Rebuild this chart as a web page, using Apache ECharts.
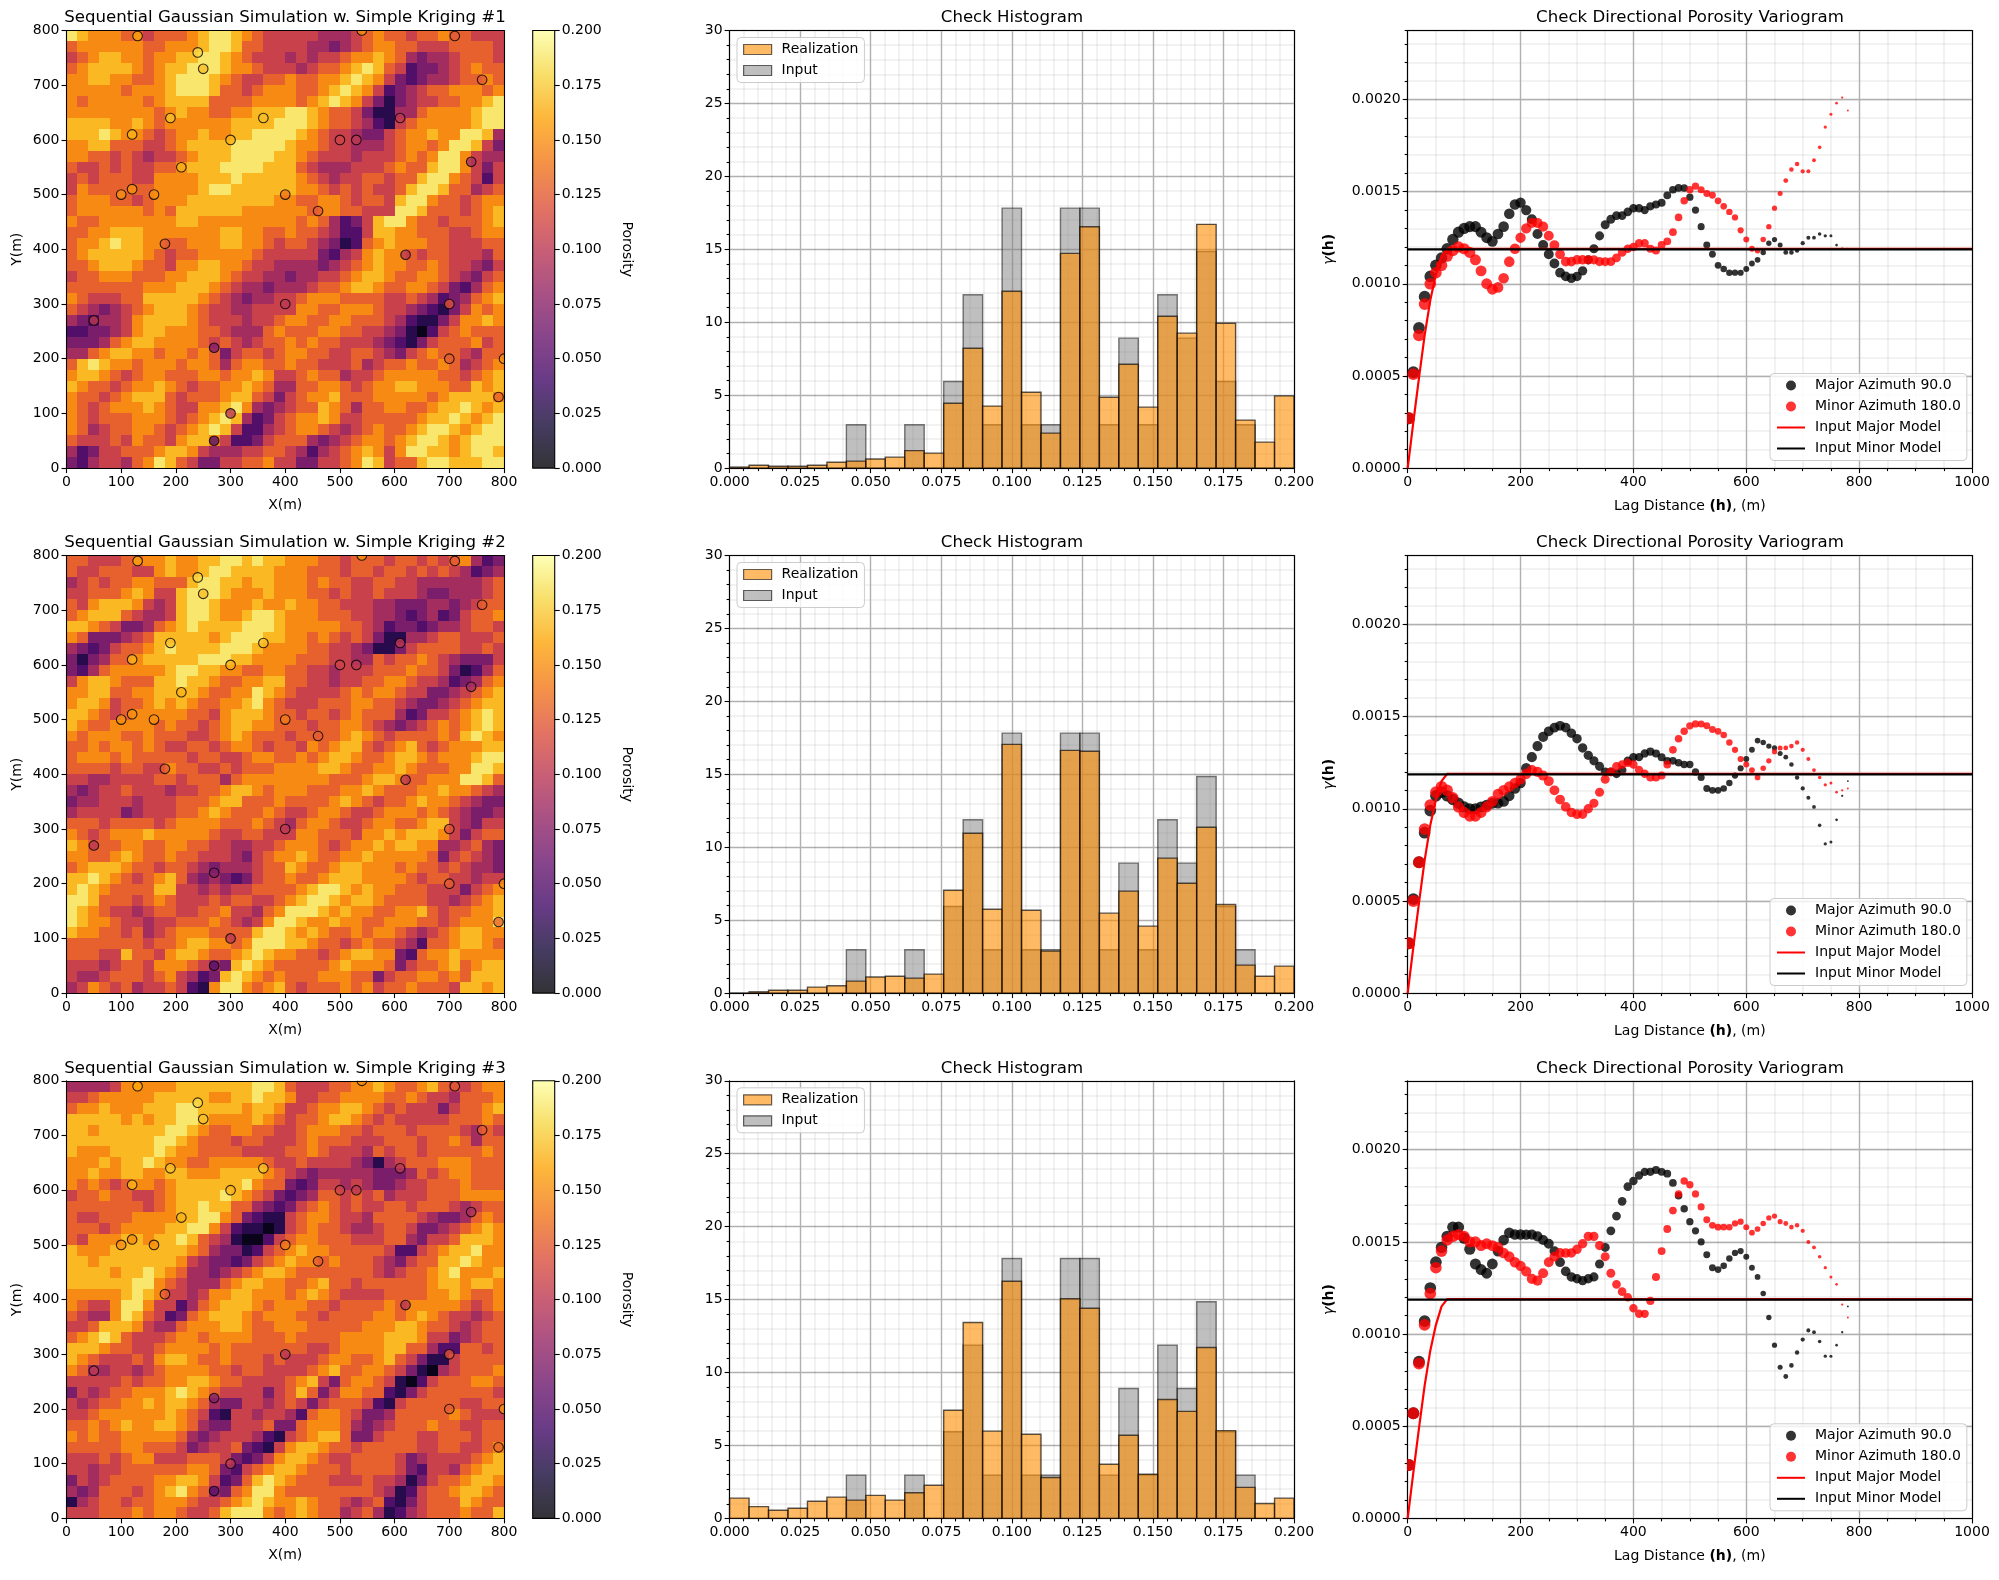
<!DOCTYPE html>
<html>
<head>
<meta charset="utf-8">
<title>Sequential Gaussian Simulation checks</title>
<style>html,body{margin:0;padding:0;background:#fff}#chart{width:1999px;height:1580px}</style>
<script src="https://cdn.jsdelivr.net/npm/echarts@6/dist/echarts.min.js"></script>
</head>
<body>
<div id="chart"></div>
<script>
// Porosity grids, top row first, one digit per 20 m cell; a digit d stands for (d + 0.4) * 0.02.
const porosityRows1 = [
"9877766566 6789987655 5554445676 6566766555","6777777667 7789986655 5544345677 6655566665",
"5678877677 8899876555 4545567787 6434456665","6788887678 8999877655 5456678986 5233456766",
"7788776678 9998765566 7667789875 3234456676","7777767778 9998665677 7667898752 3456677767",
"7677777678 8886666777 7678987531 3455667789","7777777767 8776677888 9987665311 4467777899",
"8888778767 7777788889 9987665421 5677777899","8889877656 7787788999 9876554335 6778779984",
"7788666556 7888899999 8776554445 6776799853","7766565455 6788899998 8765554555 6767997544",
"6556565566 7888999988 8654445556 7668997535","5656665577 7788898888 8765455665 6689976525",
"5766666677 7789988888 8776565655 6899866456","6777665677 7888888887 7667765665 8997665677",
"6777777676 8888887777 7767766555 9986665678","7667777777 8877777777 7676423589 9766566678",
"6677888777 7777887766 7665422588 7766655677","6778988776 6777887765 6654312678 7776655566",
"6788888765 6677777655 5553245787 7656655546","6678887665 7788776554 4443456787 7667655435",
"5667776667 7888765544 3445567887 6677654356","6666666777 8887654434 4456678876 6776532467",
"7655566888 8876543445 5677766665 5654234678","6543456788 8765544555 5776677765 5432135767",
"4324457888 8765554556 7766776665 4211357787","2233457887 7766544467 6667766554 3102567666",
"3334678877 7765654566 7676655543 2135666756","4467887767 7676356656 7766556654 3567665466",
"6898776777 6776467766 7665556456 6766764567","7887656776 6677677875 5676645567 7777665678",
"8766567787 6566778764 4667765677 8877766878","7665678886 5666788653 5677866677 7776788887",
"7656777876 5577897434 5668764667 7667889878","7656667776 5678984235 6778755666 6678898789",
"7645667765 6789852245 6776545676 6789987899","6555657665 7887522356 6643456776 7899878999",
"4235566678 8754445566 5424567875 7998878998","3245546798 6533556675 5335567985 6689988899"];
const porosityRows2 = [
"6655566778 7788998988 7776656665 6656567423","6556665578 7789988887 7766656656 6565654234",
"4565667766 6899887887 7767665566 5544444456","5566678755 8999877787 7766565565 5543344456",
"6578887545 8998777877 8776655544 3334434566","6788865445 8998778998 7776665544 3234235667",
"8876533467 8988889998 7777766542 3323445665","7633345688 8887899988 7767656531 1445665556",
"4323566789 8888999877 7766554311 3566665565","3134667888 8899988777 7666554465 6676543335",
"3246777778 9988776677 6655455566 6766531246","5788766688 9887667788 6655455667 7655423467",
"7788667788 8876677987 6555567677 6553345678","7887566787 8766778976 5556667766 5433456788",
"8876567777 7665788876 6566567666 4235567898","8766777767 6656788776 6656677654 3456767898",
"7677766766 6556787666 5666678765 6666768987","6676776765 5665677656 6576788656 7865677788",
"6777676666 6566556776 6767887667 8876777899","6666566557 6655656667 7778876677 8766677998",
"5544555566 5666467777 7777666788 7667779986","4345565554 5566788767 7766677876 6677877654",
"3445554555 6667886667 6666787656 6787765433","4555534555 6678766676 5567765567 7767654334",
"6665666656 7777666765 4677655677 6678854355","7656777877 7776556655 5776665778 7888753566",
"8766677667 7665544556 7776567787 8877445643","7766787667 6655543567 7876677877 7776356543",
"6788876656 6543444566 8766788777 6766565443","8898765678 6434323566 7667888777 7656655455",
"8987666688 5545455666 6789987877 6665553567","9986665676 5556566556 7899878876 6665545678",
"9876554566 5566755467 9998787766 7786566778","9877655455 6667654579 9877877667 7766567779",
"8776656456 7776666899 8787667677 6545678877","6666666566 7887767999 8876656766 5426678876",
"6665586657 8876678987 7665678877 3267787777","5554566577 7654389876 6666787776 3566786788",
"5445666567 5423898767 6667776635 6677676888","4576564556 5217997678 6566676756 6766658878"];
const porosityRows3 = [
"4444577777 8888888998 6555667787 6678655677","5567777788 8887788988 7556677776 6765546667",
"6778777888 9988887887 5567788765 6555356678","8888878788 9987777876 5667887656 5555566676",
"8878888889 9876677665 5677766566 6566665465","8888888899 8766656655 5676665556 6656676466",
"8777888898 7766665555 6676555465 6656666676","7778788987 7667777765 5655554314 5666777666",
"7787788778 8777888876 5434444433 3465677666","7676567767 8888889766 3235545433 4556667666",
"5667665567 8888987653 2346656564 5556667777","6666666567 8898866432 3567656556 6566654566",
"6556667777 8899763211 5677655466 6654334676","6665677778 8997521101 5676654456 6533456787",
"6577788788 9865410025 6776665556 6435568887","8777888888 8764331256 7877666665 2256788977",
"8878888888 7543323567 8776766654 3566889877","8888788987 6443456788 7666666654 5667897778",
"8888889976 5444678877 6678665666 6667887887","7777789875 5457788777 6787655556 6667787667",
"7655799755 2467888767 7766566667 6777776567","6544798652 3678887677 7665666677 6787655456",
"5568887544 6777887667 7766666777 8876654566","6789865556 7767777666 7666677778 8875534566",
"8887665567 7776766666 6655677778 8664226656","8765556578 8766766656 5556776678 6531156666",
"7644554567 7776656655 5567866776 5310456667","5555565667 7887665555 6785367765 1025666776",
"3545667778 9876555535 6863577662 1356666665","5456677878 8764335545 6535666521 5666665566",
"5567777778 7652155455 4267765334 6666676555","6676787788 7643355563 3677764345 6667665566",
"7676677777 6434555421 5678863356 6655666566","6666677666 5345563215 7887665666 6655665567",
"5556567755 5666532357 8876556666 5345555678","5545566666 6776325678 8766656666 5325546788",
"3545666677 8875236898 7666555655 4135667887","4346665678 9764367997 6666666654 1256678876",
"1456656677 7655678987 7876654562 1356668766","5556667677 6556899976 7876645641 2456667668"];

// Sample wells shown on every map
const wellX = [130,240,250,760,710,540,190,360,610,120,300,500,530,740,210,120,100,160,400,460,180,620,400,700,50,270,700,800,790,300,270];
const wellY = [790,760,730,710,790,800,640,640,640,610,600,600,600,560,550,510,500,500,500,470,410,390,300,300,270,220,200,200,130,100,50];
const wellPorosity = [.16,.18,.17,.125,.125,.15,.17,.17,.10,.165,.165,.11,.10,.09,.165,.15,.15,.15,.14,.125,.125,.10,.10,.12,.10,.07,.125,.15,.13,.10,.05];

// Histogram heights, 29 equal bins over 0 to 0.2
const inputHist = [0,0,0,0,0,0,2.97,0,0,2.97,0,5.94,11.88,2.97,17.82,2.97,2.97,17.82,17.82,2.97,8.91,2.97,11.88,8.91,14.85,5.94,2.97,0,0];
const realizationHist1 = [.07,.2,.13,.13,.2,.4,.48,.62,.75,1.2,1.03,4.45,8.22,4.25,12.12,5.2,2.4,14.72,16.55,4.86,7.12,4.18,10.41,9.25,16.71,9.93,3.29,1.78,4.95];
const realizationHist2 = [0,.09,.2,.2,.41,.5,.82,1.1,1.16,1.03,1.3,7.05,10.96,5.75,17.05,5.68,2.88,16.64,16.58,5.48,6.99,4.59,9.25,7.53,11.37,6.07,1.92,1.16,1.85];
const realizationHist3 = [1.39,.81,.56,.7,1.18,1.46,1.25,1.58,1.25,1.76,2.27,7.41,13.43,5.98,16.26,5.77,2.8,15.06,14.41,3.71,5.7,3.03,8.15,7.34,11.72,6.02,2.13,1.02,1.39];

// Experimental variograms, gamma against lag distance
const lags = [2,10,20,30,40,50,60,70,80,90,100,110,120,130,140,150,160,170,180,190,200,210,220,230,240,250,260,270,280,290,300,310,320,330,340,350,360,370,380,390,400,410,420,430,440,450,460,470,480,490,500,510,520,530,540,550,560,570,580,590,600,610,620,630,640,650,660,670,680,690,700,710,720,730,740,750,760,770,780];
const major1 = [.00027,.00052,.00076,.00093,.00104,.0011,.00114,.00119,.00124,.00128,.0013,.00131,.00131,.00128,.00125,.00123,.00127,.00131,.00138,.00143,.00144,.0014,.00135,.00127,.00121,.00116,.00111,.00106,.00104,.00103,.00104,.00107,.00113,.00119,.00126,.00132,.00135,.00137,.00137,.00139,.00141,.00141,.0014,.00142,.00143,.00144,.00148,.00151,.00152,.00152,.00147,.0014,.00131,.00121,.00116,.0011,.00108,.00106,.00106,.00106,.00108,.00111,.00113,.00117,.00122,.00124,.00121,.00117,.00117,.00118,.00122,.00125,.00125,.00127,.00126,.00126,.00121,.00119,.00119];
const minor1 = [.00027,.00051,.00072,.00089,.001,.00106,.0011,.00115,.00118,.0012,.00119,.00117,.00113,.00107,.001,.00097,.00098,.00103,.00112,.00119,.00125,.0013,.00133,.00133,.00131,.00126,.00121,.00116,.00112,.00112,.00113,.00113,.00113,.00113,.00112,.00112,.00112,.00114,.00117,.00119,.0012,.00122,.00122,.00119,.00118,.00121,.00123,.00128,.00136,.00145,.00151,.00153,.00151,.00149,.00148,.00145,.00142,.00139,.00136,.00129,.00124,.00119,.00118,.00124,.00131,.00141,.00149,.00156,.00162,.00165,.00161,.00161,.00167,.00174,.00185,.00192,.00198,.00201,.00194];
const major2 = [.00027,.00051,.00071,.00087,.00099,.00107,.00109,.00107,.00105,.00103,.00101,.001,.001,.00101,.00102,.00103,.00103,.00104,.00107,.00111,.00114,.00122,.00128,.00134,.00139,.00142,.00144,.00145,.00144,.00141,.00138,.00133,.00129,.00126,.00123,.0012,.0012,.00119,.00121,.00126,.00128,.00128,.0013,.00131,.0013,.00128,.00126,.00126,.00125,.00124,.00124,.0012,.00117,.00111,.0011,.0011,.00111,.00114,.00118,.00122,.00127,.00132,.00137,.00136,.00134,.00133,.0013,.00128,.00124,.00117,.00111,.00106,.00101,.00091,.00081,.00082,.00094,.00107,.00115];
const minor2 = [.00027,.0005,.00071,.00089,.00102,.00109,.00112,.0011,.00106,.00101,.00098,.00096,.00096,.00098,.00101,.00104,.00108,.0011,.00112,.00114,.00116,.00119,.00121,.0012,.00118,.00115,.0011,.00105,.00101,.00098,.00097,.00097,.001,.00103,.00109,.00116,.0012,.00123,.00124,.00125,.00124,.00121,.00119,.00117,.00117,.00118,.00124,.00132,.00138,.00142,.00145,.00146,.00146,.00145,.00143,.00142,.0014,.00136,.00132,.00127,.00124,.00121,.00117,.00122,.00126,.00131,.00133,.00133,.00134,.00136,.00132,.00127,.00121,.00117,.00113,.00114,.00109,.0011,.00111];
const major3 = [.00029,.00057,.00085,.00107,.00125,.00139,.00147,.00153,.00158,.00158,.00152,.00146,.00138,.00135,.00133,.00138,.00145,.00151,.00155,.00154,.00154,.00154,.00154,.00153,.00151,.00149,.00145,.00139,.00134,.00131,.0013,.00129,.0013,.00131,.00138,.00147,.00156,.00164,.00172,.0018,.00183,.00186,.00188,.00188,.00189,.00188,.00187,.00182,.00175,.00168,.00161,.00156,.0015,.00143,.00136,.00135,.00137,.00141,.00144,.00145,.00142,.00136,.00131,.00122,.00109,.00094,.00082,.00077,.00083,.0009,.00097,.00102,.00101,.00096,.00088,.00088,.00094,.00101,.00115];
const minor3 = [.00029,.00057,.00084,.00105,.00122,.00136,.00145,.00151,.00153,.00154,.00153,.0015,.0015,.00148,.00149,.00148,.00147,.00144,.00142,.00139,.00137,.00134,.0013,.00129,.00133,.00139,.00142,.00144,.00144,.00144,.00146,.00149,.00153,.00153,.00148,.00142,.00133,.00127,.00123,.0012,.00114,.00111,.00111,.00118,.00131,.00145,.00157,.00167,.00176,.00183,.00181,.00176,.00169,.00162,.00159,.00158,.00158,.00158,.0016,.00161,.00158,.00155,.00157,.0016,.00163,.00164,.00161,.0016,.00158,.00159,.00156,.0015,.00147,.00142,.00136,.00131,.00127,.00116,.00109];

// Input variogram models
const majorModelLag = [0,10,20,30,40,50,60,70,1000];
const majorModelGamma = [0,.00025,.00049,.00072,.00091,.00105,.00115,.00119,.00119];
const minorModelLag = [0,1000];
const minorModelGamma = [.001187,.001187];

// Inferno for the grid cells; the colour bar shows it at 80 % opacity on white
const infernoColors = ['#000004','#160b39','#420a68','#6a176e','#932667','#bc3754','#dd513a','#f37819','#fca50a','#f6d746','#fcffa4'];
const colourBarColors = ['#333336','#453c61','#683b86','#88458b','#a95185','#c95f76','#e47461','#f59347','#fdb73b','#f8df6b','#fdffb6'];

const maps = [porosityRows1, porosityRows2, porosityRows3];
const realizations = [realizationHist1, realizationHist2, realizationHist3];
const majors = [major1, major2, major3];
const minors = [minor1, minor2, minor3];

const rowTops = [30.5, 555.5, 1080.8];
const rowHeight = 437.6;
const FONT = 'DejaVu Sans';
const option = {
  animation: false,
  backgroundColor: '#fff',
  textStyle: { fontFamily: FONT, color: '#000' },
  title: [], grid: [], xAxis: [], yAxis: [], series: [], legend: [], visualMap: []
};

const tickStyle = { color: '#000', width: 1.1 };
const baseAxis = () => ({
  type: 'value',
  axisLine: { show: true, onZero: false, lineStyle: { color: '#000', width: 1.1 } },
  axisTick: { show: true, length: 5, lineStyle: tickStyle },
  axisLabel: { show: true, color: '#000', fontSize: 14, fontFamily: FONT, margin: 7 },
  splitLine: { show: false },
  nameTextStyle: { color: '#000', fontSize: 14, fontFamily: FONT },
  nameLocation: 'middle'
});
const majorGrid = { show: true, lineStyle: { color: '#b0b0b0', width: 1.4 } };
const minorGrid = { show: true, lineStyle: { color: 'rgba(0,0,0,0.07)', width: 1.5 } };

function addGrid(left, top, width, height) {
  option.grid.push({ left, top, width, height, show: false });
  return option.grid.length - 1;
}
function addX(cfg) { option.xAxis.push(cfg); return option.xAxis.length - 1; }
function addY(cfg) { option.yAxis.push(cfg); return option.yAxis.length - 1; }

// Top and right spines, kept above the marks
function addFrame(g, xMin, xMax, yMin, yMax) {
  const bare = { type: 'value', gridIndex: g, z: 6, silent: true,
    axisLine: { show: true, onZero: false, lineStyle: { color: '#000', width: 1.1 } },
    axisTick: { show: false }, axisLabel: { show: false }, splitLine: { show: false } };
  addX({ ...bare, position: 'top', min: xMin, max: xMax });
  addY({ ...bare, position: 'right', min: yMin, max: yMax });
}
function addTitle(text, cx, top) {
  option.title.push({ text, left: cx - 5, top: top - 26, textAlign: 'center',
    textStyle: { fontSize: 16.6, fontWeight: 'normal', color: '#000', fontFamily: FONT } });
}

function cellRect(params, api) {
  const a = api.coord([api.value(0), api.value(1) + 20]);
  const b = api.coord([api.value(0) + 20, api.value(1)]);
  const x = Math.round(a[0]), y = Math.round(a[1]);
  return { type: 'rect', shape: { x, y, width: Math.round(b[0]) - x, height: Math.round(b[1]) - y },
    style: { fill: api.visual('color') } };
}
// Well markers are cut off at the plot edge, so they are drawn as clipped circles
function wellCircle(params, api) {
  const p = api.coord([api.value(0), api.value(1)]);
  return { type: 'circle', shape: { cx: p[0], cy: p[1], r: 4.8 },
    style: { fill: api.visual('color'), stroke: '#000', lineWidth: 1.1, opacity: 0.8 } };
}
// Variogram dots shrink with lag as fewer pairs support them; also clipped at the edge
function lagDot(fill) {
  return function (params, api) {
    const h = api.value(0);
    const p = api.coord([h, api.value(1)]);
    const r = Math.max(0.7, 6 * Math.sqrt(Math.max(0, 1 - h / 800)));
    return { type: 'circle', shape: { cx: p[0], cy: p[1], r }, style: { fill } };
  };
}
function histRect(fill, stroke) {
  return function (params, api) {
    const a = api.coord([api.value(0), api.value(2)]);
    const b = api.coord([api.value(1), 0]);
    return { type: 'rect', shape: { x: a[0], y: a[1], width: b[0] - a[0], height: b[1] - a[1] },
      style: { fill, stroke, lineWidth: 1.4 } };
  };
}
const BIN_COUNT = inputHist.length;
const binned = heights => heights.map((h, i) => [i * 0.2 / BIN_COUNT, (i + 1) * 0.2 / BIN_COUNT, h]);

rowTops.forEach((top, r) => {
  // --- porosity map ---
  const gMap = addGrid(66.5, top, 437.5, rowHeight);
  const xMap = addX({ ...baseAxis(), gridIndex: gMap, z: 5, min: 0, max: 800, interval: 100, position: 'bottom', name: 'X(m)', nameGap: 30 });
  const yMap = addY({ ...baseAxis(), gridIndex: gMap, z: 5, min: 0, max: 800, interval: 100, position: 'left', name: 'Y(m)', nameGap: 42 });
  addFrame(gMap, 0, 800, 0, 800);
  addTitle('Sequential Gaussian Simulation w. Simple Kriging #' + (r + 1), 285, top);
  const cells = [];
  maps[r].forEach((row, i) => {
    row.replace(/ /g, '').split('').forEach((d, j) => cells.push([j * 20, 800 - (i + 1) * 20, (+d + 0.4) * 0.02]));
  });
  option.series.push({ type: 'custom', name: 'Porosity ' + (r + 1), xAxisIndex: xMap, yAxisIndex: yMap, data: cells, renderItem: cellRect,
    encode: { x: 0, y: 1 }, silent: true, progressive: 0, clip: true, z: 2 });
  const cellsIndex = option.series.length - 1;
  option.series.push({ type: 'custom', name: 'Wells ' + (r + 1), xAxisIndex: xMap, yAxisIndex: yMap, clip: true, silent: true, z: 3,
    data: wellX.map((x, i) => [x, wellY[i], wellPorosity[i]]), encode: { x: 0, y: 1 }, renderItem: wellCircle });
  option.visualMap.push({ show: false, type: 'continuous', min: 0, max: 0.2, dimension: 2,
    seriesIndex: [cellsIndex, cellsIndex + 1], inRange: { color: infernoColors } });

  // --- colour bar ---
  const gBar = addGrid(532.7, top, 22, rowHeight);
  const xBar = addX({ type: 'value', gridIndex: gBar, min: 0, max: 1, show: false });
  const yBar = addY({ ...baseAxis(), gridIndex: gBar, min: 0, max: 0.2, interval: 0.025, position: 'right',
    axisLine: { show: false, onZero: false },
    axisLabel: { ...baseAxis().axisLabel, formatter: v => v.toFixed(3) },
    name: 'Porosity', nameRotate: -90, nameGap: 65 });
  option.series.push({ type: 'custom', name: 'Colour bar ' + (r + 1), xAxisIndex: xBar, yAxisIndex: yBar, silent: true, clip: false, z: 3,
    data: [[0, 1, 0, 0.2]], encode: { x: [0, 1], y: [2, 3] },
    renderItem(params, api) {
      const a = api.coord([api.value(0), api.value(3)]);
      const b = api.coord([api.value(1), api.value(2)]);
      return { type: 'rect', shape: { x: a[0], y: a[1], width: b[0] - a[0], height: b[1] - a[1] },
        style: { stroke: '#000', lineWidth: 1.1,
          fill: new echarts.graphic.LinearGradient(0, 1, 0, 0, colourBarColors.map((color, k) => ({ offset: k / (colourBarColors.length - 1), color }))) } };
    } });

  // --- histogram ---
  const gHist = addGrid(729.6, top, 564.4, rowHeight);
  const xHist = addX({ ...baseAxis(), gridIndex: gHist, min: 0, max: 0.2, interval: 0.025, position: 'bottom',
    axisLabel: { ...baseAxis().axisLabel, formatter: v => v.toFixed(3) },
    minorTick: { show: true, splitNumber: 5, length: 3, lineStyle: tickStyle },
    splitLine: majorGrid, minorSplitLine: minorGrid });
  const yHist = addY({ ...baseAxis(), gridIndex: gHist, min: 0, max: 30, interval: 5, position: 'left',
    minorTick: { show: true, splitNumber: 5, length: 3, lineStyle: tickStyle },
    splitLine: majorGrid, minorSplitLine: minorGrid });
  addFrame(gHist, 0, 0.2, 0, 30);
  addTitle('Check Histogram', 1012, top);
  option.series.push({ type: 'custom', name: 'Input', xAxisIndex: xHist, yAxisIndex: yHist, silent: true, progressive: 0, z: 2,
    data: binned(inputHist), encode: { x: [0, 1], y: 2 }, itemStyle: { color: 'rgba(128,128,128,0.5)' },
    renderItem: histRect('rgba(128,128,128,0.5)', 'rgba(0,0,0,0.5)') });
  option.series.push({ type: 'custom', name: 'Realization', xAxisIndex: xHist, yAxisIndex: yHist, silent: true, progressive: 0, z: 3,
    data: binned(realizations[r]), encode: { x: [0, 1], y: 2 }, itemStyle: { color: 'rgba(255,140,0,0.6)' },
    renderItem: histRect('rgba(255,140,0,0.6)', 'rgba(0,0,0,0.65)') });
  option.legend.push({ left: 737, top: top + 7, orient: 'vertical', selectedMode: false, itemWidth: 28, itemHeight: 10, itemGap: 7,
    padding: [5, 6, 5, 6], backgroundColor: 'rgba(255,255,255,0.8)', borderColor: '#ccc', borderWidth: 1, borderRadius: 4,
    textStyle: { color: '#000', fontSize: 14, fontFamily: FONT, padding: [0, 0, 0, 5] },
    data: [
      { name: 'Realization', icon: 'rect', itemStyle: { color: 'rgba(255,140,0,0.6)', borderColor: 'rgba(0,0,0,0.6)', borderWidth: 1.2 } },
      { name: 'Input', icon: 'rect', itemStyle: { color: 'rgba(128,128,128,0.5)', borderColor: 'rgba(0,0,0,0.6)', borderWidth: 1.2 } }
    ] });

  // --- variogram ---
  const gVar = addGrid(1407.7, top, 564.3, rowHeight);
  const VAR_MAX = 0.002374;
  const xVar = addX({ ...baseAxis(), gridIndex: gVar, min: 0, max: 1000, interval: 200, position: 'bottom',
    axisLabel: { ...baseAxis().axisLabel, formatter: v => String(v) },
    name: '{a|Lag Distance }{b|(h)}{a|, (m)}', nameGap: 31,
    nameTextStyle: { color: '#000', rich: { a: { fontSize: 14, fontFamily: FONT, color: '#000' }, b: { fontSize: 14, fontFamily: FONT, fontWeight: 'bold', color: '#000' } } },
    minorTick: { show: true, splitNumber: 4, length: 3, lineStyle: tickStyle },
    splitLine: majorGrid, minorSplitLine: minorGrid });
  // Fine y gridlines and ticks sit on their own unlabelled axis
  addY({ ...baseAxis(), gridIndex: gVar, min: 0, max: VAR_MAX, interval: 0.0001, position: 'left',
    axisLine: { show: false, onZero: false }, axisLabel: { show: false },
    axisTick: { show: true, length: 3, lineStyle: tickStyle }, splitLine: minorGrid });
  const yVar = addY({ ...baseAxis(), gridIndex: gVar, min: 0, max: VAR_MAX, interval: 0.0005, position: 'left',
    axisLabel: { ...baseAxis().axisLabel, formatter: v => v.toFixed(4), showMaxLabel: false },
    splitLine: majorGrid,
    name: '{g|γ}{b|(h)}', nameGap: 71,
    nameTextStyle: { color: '#000', rich: { g: { fontSize: 14, fontFamily: FONT, fontStyle: 'italic', color: '#000' }, b: { fontSize: 14, fontFamily: FONT, fontWeight: 'bold', color: '#000' } } } });
  addFrame(gVar, 0, 1000, 0, VAR_MAX);
  addTitle('Check Directional Porosity Variogram', 1690, top);
  option.series.push({ type: 'custom', name: 'Major Azimuth 90.0', xAxisIndex: xVar, yAxisIndex: yVar, clip: true, silent: true, z: 2,
    data: lags.map((h, i) => [h, majors[r][i]]), encode: { x: 0, y: 1 }, itemStyle: { color: 'rgba(0,0,0,0.8)' }, renderItem: lagDot('rgba(0,0,0,0.8)') });
  option.series.push({ type: 'custom', name: 'Minor Azimuth 180.0', xAxisIndex: xVar, yAxisIndex: yVar, clip: true, silent: true, z: 2,
    data: lags.map((h, i) => [h, minors[r][i]]), encode: { x: 0, y: 1 }, itemStyle: { color: 'rgba(255,0,0,0.8)' }, renderItem: lagDot('rgba(255,0,0,0.8)') });
  option.series.push({ type: 'line', name: 'Input Major Model', xAxisIndex: xVar, yAxisIndex: yVar, symbol: 'none', silent: true, z: 3,
    data: majorModelLag.map((h, i) => [h, majorModelGamma[i]]), lineStyle: { color: '#f00', width: 2.2 }, itemStyle: { color: '#f00' } });
  option.series.push({ type: 'line', name: 'Input Minor Model', xAxisIndex: xVar, yAxisIndex: yVar, symbol: 'none', silent: true, z: 3,
    data: minorModelLag.map((h, i) => [h, minorModelGamma[i]]), lineStyle: { color: '#000', width: 2.2 }, itemStyle: { color: '#000' } });
  option.legend.push({ left: 1770, top: top + 343, orient: 'vertical', selectedMode: false, itemWidth: 28, itemHeight: 10, itemGap: 7,
    padding: [5, 6, 5, 6], backgroundColor: 'rgba(255,255,255,0.8)', borderColor: '#ccc', borderWidth: 1, borderRadius: 4,
    textStyle: { color: '#000', fontSize: 14, fontFamily: FONT, padding: [0, 0, 0, 5] },
    data: [
      { name: 'Major Azimuth 90.0', icon: 'circle', itemStyle: { color: 'rgba(0,0,0,0.8)' } },
      { name: 'Minor Azimuth 180.0', icon: 'circle', itemStyle: { color: 'rgba(255,0,0,0.8)' } },
      { name: 'Input Major Model', itemStyle: { opacity: 0 } },
      { name: 'Input Minor Model', itemStyle: { opacity: 0 } }
    ] });
});

const chart = echarts.init(document.getElementById('chart'), null, { renderer: 'canvas' });
chart.setOption(option);
</script>
</body>
</html>
